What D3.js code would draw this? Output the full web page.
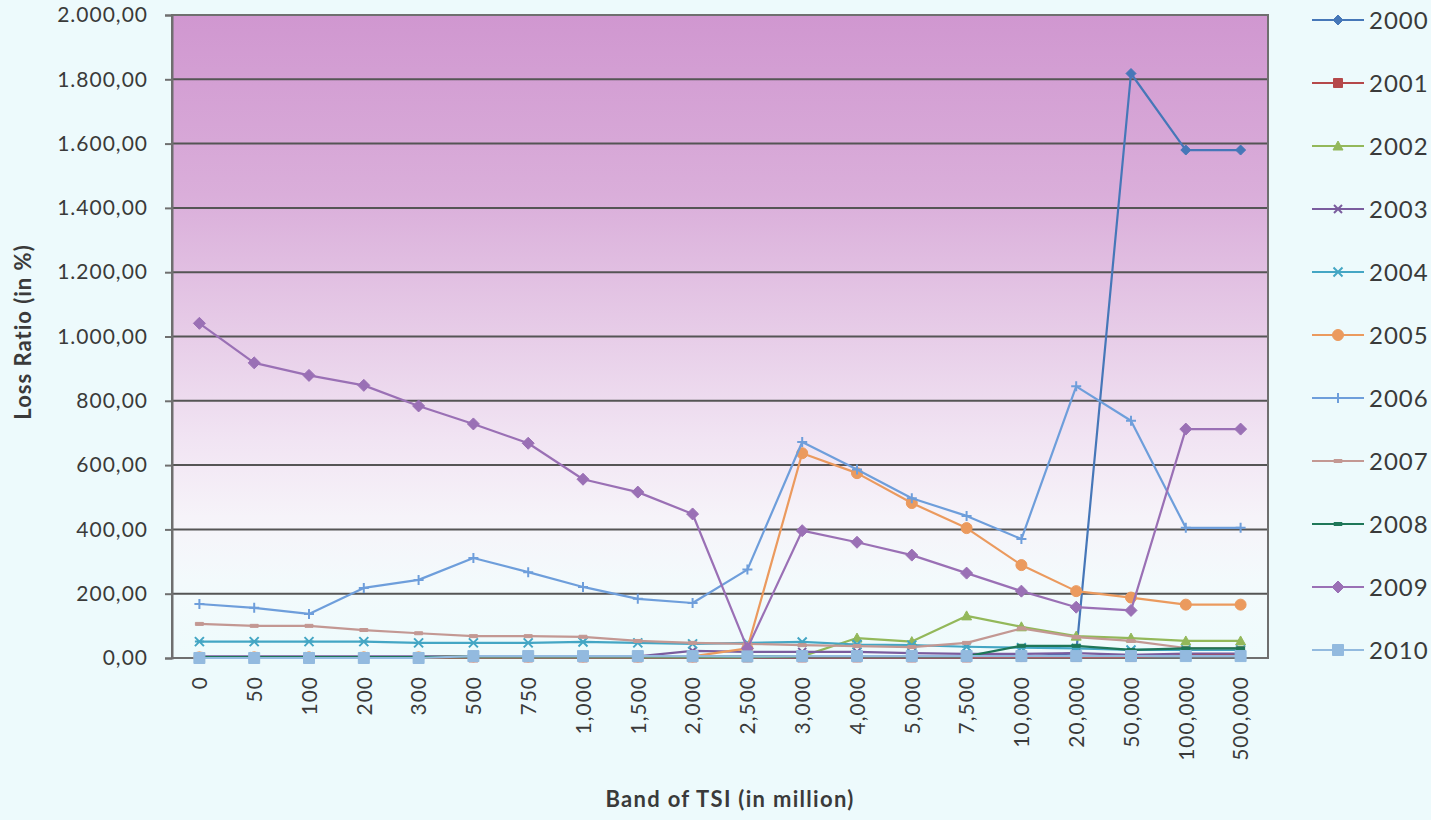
<!DOCTYPE html>
<html>
<head>
<meta charset="utf-8">
<script src="https://cdn.jsdelivr.net/npm/d3@7"></script>
<style>
  html, body { margin: 0; padding: 0; background: #edfafc; }
  svg { display: block; }
  text { font-family: Lato, "Open Sans", sans-serif; fill: #3a3a3a; }
</style>
</head>
<body>
<svg id="chart" width="1431" height="820"></svg>
<script>
// Bands of total sum insured (in million)
const categories = ["0","50","100","200","300","500","750","1,000","1,500","2,000","2,500","3,000","4,000","5,000","7,500","10,000","20,000","50,000","100,000","500,000"];

// Loss ratio (in %) by year
const y2000 = [2,2,2,2,2,3,3,3,3,3,3,3,3,3,3,3,15,1818,1580,1580];
const y2001 = [1,1,1,1,1,2,2,2,2,2,2,2,2,2,2,3,3,3,10,10];
const y2002 = [3,3,3,3,3,3,3,3,3,3,3,5,62,51,131,97,68,62,53,53];
const y2003 = [5,5,5,5,5,5,5,5,5,22,19,19,19,15,13,13,15,10,14,14];
const y2004 = [51,51,51,51,47,47,47,50,47,44,47,50,42,40,35,32,30,25,25,25];
const y2005 = [2,2,2,2,2,5,5,5,5,5,30,637,575,482,404,289,208,188,166,166];
const y2006 = [168,156,137,218,243,311,267,221,184,171,275,672,586,497,442,370,845,738,405,405];
const y2007 = [106,100,100,87,77,68,68,66,53,47,44,40,37,34,47,92,65,53,31,31];
const y2008 = [3,3,3,3,3,5,5,5,5,5,5,5,5,5,5,38,38,25,30,30];
const y2009 = [1041,918,879,848,784,728,668,556,516,448,30,396,360,320,264,208,158,148,712,712];
const y2010 = [0,0,0,0,0,6,6,6,6,6,5,6,6,6,6,6,6,6,6,6];

const yTicks = [0,200,400,600,800,1000,1200,1400,1600,1800,2000];

const series = [
  { name: "2000", values: y2000, color: "#4677b8", marker: "diamond", size: 10 },
  { name: "2001", values: y2001, color: "#b5484a", marker: "square", size: 9 },
  { name: "2002", values: y2002, color: "#93b85a", marker: "triangle", size: 10 },
  { name: "2003", values: y2003, color: "#7a5c9e", marker: "cross", size: 8 },
  { name: "2004", values: y2004, color: "#44a6c4", marker: "asterisk", size: 9 },
  { name: "2005", values: y2005, color: "#eb9a5e", marker: "circle", size: 11 },
  { name: "2006", values: y2006, color: "#6e9edb", marker: "plus", size: 10 },
  { name: "2007", values: y2007, color: "#c39893", marker: "dash", size: 8 },
  { name: "2008", values: y2008, color: "#1f7758", marker: "dash", size: 8 },
  { name: "2009", values: y2009, color: "#9a70b5", marker: "diamond", size: 12 },
  { name: "2010", values: y2010, color: "#93badf", marker: "square", size: 11 }
];

const svg = d3.select("#chart");
const plot = { left: 172, right: 1268, top: 15, bottom: 658 };

const x = d3.scalePoint().domain(categories).range([plot.left, plot.right]).padding(0.5);
const y = d3.scaleLinear().domain([0, 2000]).range([plot.bottom, plot.top]);

// Plot area fill: purple fading to pale cyan at the bottom
const defs = svg.append("defs");
const grad = defs.append("linearGradient").attr("id", "plotBg")
  .attr("x1", 0).attr("y1", 0).attr("x2", 0).attr("y2", 1);
[["0%", "#d097d0"], ["28%", "#daaeda"], ["50%", "#e7cde8"], ["66%", "#f1e4f3"], ["78%", "#f6f3f9"], ["88%", "#f3fafc"], ["100%", "#eefbfc"]]
  .forEach(([o, c]) => grad.append("stop").attr("offset", o).attr("stop-color", c));

svg.append("rect")
  .attr("x", plot.left).attr("y", plot.top)
  .attr("width", plot.right - plot.left).attr("height", plot.bottom - plot.top)
  .attr("fill", "url(#plotBg)");

// Horizontal gridlines
svg.append("g").selectAll("line").data(yTicks.filter(d => d > 0)).join("line")
  .attr("x1", plot.left).attr("x2", plot.right)
  .attr("y1", d => y(d)).attr("y2", d => y(d))
  .attr("stroke", "#555").attr("stroke-width", 2);

// Plot border
svg.append("rect")
  .attr("x", plot.left).attr("y", plot.top)
  .attr("width", plot.right - plot.left).attr("height", plot.bottom - plot.top)
  .attr("fill", "none").attr("stroke", "#6f6f6f").attr("stroke-width", 2);

// Y axis
const fmt = v => {
  const s = v.toFixed(2).split(".");
  return s[0].replace(/\B(?=(\d{3})+(?!\d))/g, ".") + "," + s[1];
};
const yAxis = svg.append("g").attr("transform", `translate(${plot.left},0)`)
  .call(d3.axisLeft(y).tickValues(yTicks).tickFormat(fmt).tickSize(7).tickPadding(17));
yAxis.select(".domain").attr("stroke", "#6f6f6f").attr("stroke-width", 2);
yAxis.selectAll(".tick line").attr("stroke", "#6f6f6f").attr("stroke-width", 2);
yAxis.selectAll(".tick text")
  .style("font-family", "Lato, sans-serif").style("font-size", "21px")
  .style("letter-spacing", "1px").attr("fill", "#3a3a3a");

// X axis
const xAxis = svg.append("g").attr("transform", `translate(0,${plot.bottom})`)
  .call(d3.axisBottom(x).tickSize(0).tickPadding(0));
xAxis.select(".domain").remove();
xAxis.selectAll(".tick text")
  .attr("transform", "rotate(-90)")
  .attr("x", -18).attr("y", 0).attr("dy", "0.35em")
  .style("text-anchor", "end")
  .style("font-family", "Lato, sans-serif").style("font-size", "21px")
  .style("letter-spacing", "1px").attr("fill", "#3a3a3a");

// Axis titles
svg.append("text")
  .attr("transform", "translate(31,332) rotate(-90)")
  .attr("text-anchor", "middle")
  .style("font-size", "22px").style("font-weight", "bold")
  .style("letter-spacing", "1px")
  .text("Loss Ratio (in %)");
svg.append("text")
  .attr("x", 730).attr("y", 807)
  .attr("text-anchor", "middle")
  .style("font-size", "22px").style("font-weight", "bold")
  .style("letter-spacing", "1.3px")
  .text("Band of TSI (in million)");

// Marker shapes
function markerPath(type, s) {
  const h = s / 2;
  switch (type) {
    case "diamond": return `M0,${-h}L${h},0L0,${h}L${-h},0Z`;
    case "square": return `M${-h},${-h}H${h}V${h}H${-h}Z`;
    case "triangle": return `M0,${-h}L${h},${h * 0.8}L${-h},${h * 0.8}Z`;
    case "circle": return d3.symbol(d3.symbolCircle, Math.PI * h * h)();
    case "cross": return `M${-h},${-h}L${h},${h}M${-h},${h}L${h},${-h}`;
    case "asterisk": return `M${-h},${-h}L${h},${h}M${-h},${h}L${h},${-h}M${-h},0H${h}`;
    case "plus": return `M0,${-h}V${h}M${-h},0H${h}`;
    case "dash": return `M${-h},${-1.5}H${h}V${1.5}H${-h}Z`;
  }
}
const stroked = t => t === "cross" || t === "asterisk" || t === "plus";

const line = d3.line().x((d, i) => x(categories[i])).y(d => y(d));

const gSeries = svg.append("g");
series.forEach(s => {
  const g = gSeries.append("g");
  g.append("path").datum(s.values)
    .attr("d", line).attr("fill", "none")
    .attr("stroke", s.color).attr("stroke-width", 2.2)
    .attr("stroke-linejoin", "round");
  g.selectAll("path.m").data(s.values).join("path").attr("class", "m")
    .attr("transform", (d, i) => `translate(${x(categories[i])},${y(d)})`)
    .attr("d", markerPath(s.marker, s.size))
    .attr("fill", stroked(s.marker) ? "none" : s.color)
    .attr("stroke", s.color)
    .attr("stroke-width", stroked(s.marker) ? 2 : 1);
});

// Legend
const legend = svg.append("g");
series.forEach((s, i) => {
  const ly = 20 + i * 63;
  const g = legend.append("g").attr("transform", `translate(0,${ly})`);
  g.append("line").attr("x1", 1312).attr("x2", 1364).attr("y1", 0).attr("y2", 0)
    .attr("stroke", s.color).attr("stroke-width", 2);
  g.append("path").attr("transform", "translate(1338,0)")
    .attr("d", markerPath(s.marker, s.size))
    .attr("fill", stroked(s.marker) ? "none" : s.color)
    .attr("stroke", s.color).attr("stroke-width", stroked(s.marker) ? 2 : 1);
  g.append("text").attr("x", 1369).attr("y", 0).attr("dy", "0.36em")
    .style("font-size", "24px").style("letter-spacing", "1px")
    .text(s.name);
});
</script>
</body>
</html>
